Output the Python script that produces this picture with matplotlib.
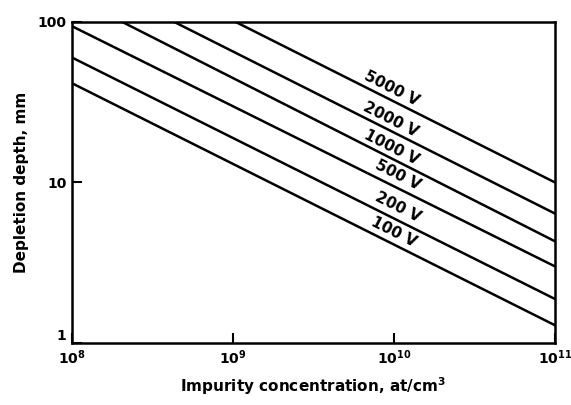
import numpy as np
import matplotlib
matplotlib.use('Agg')
import matplotlib.pyplot as plt

# impurity concentration endpoints (at/cm^3)
conc = [1e8, 1e11]
voltages = ['5000 V', '2000 V', '1000 V', '500 V', '200 V', '100 V']
# depletion depth (mm) at 1e8 and 1e11
depth_start = [325, 209, 144, 94, 60, 41.5]
depth_end = [10.0, 6.4, 4.3, 3.0, 1.88, 1.29]
# label anchor positions (concentration, depth)
label_x = [9.7e9, 9.5e9, 9.7e9, 1.05e10, 1.05e10, 1.0e10]
label_y = [38.3, 24.5, 16.6, 11.1, 7.0, 4.9]

plt.rcParams['font.family'] = 'DejaVu Sans'
plt.rcParams['font.weight'] = 'bold'

fig = plt.figure(figsize=(5.71, 4.05), dpi=100)
ax = fig.add_axes([0.126, 0.153, 0.846, 0.793])

for v, d0, d1, lx, ly in zip(voltages, depth_start, depth_end, label_x, label_y):
    ax.plot(conc, [d0, d1], color='black', linewidth=1.8)
    ax.text(lx, ly, v, rotation=-27, ha='center', va='center',
            fontsize=11, fontweight='bold')

ax.set_xscale('log')
ax.set_yscale('log')
ax.set_xlim(1e8, 1e11)
ax.set_ylim(1, 100)

ax.set_xticks([1e8, 1e9, 1e10, 1e11])
ax.set_xticklabels(['10$^{\\mathbf{8}}$', '10$^{\\mathbf{9}}$', '10$^{\\mathbf{10}}$', '10$^{\\mathbf{11}}$'],
                   fontsize=10, fontweight='bold')
ax.set_yticks([1, 10, 100])
ax.set_yticklabels(['1', '10', '100'], fontsize=10, fontweight='bold')
ax.get_yticklabels()[0].set_verticalalignment('bottom')
ax.minorticks_off()
ax.tick_params(direction='in', length=7, width=1.5, pad=4)

for s in ax.spines.values():
    s.set_linewidth(1.8)

ax.set_xlabel('Impurity concentration, at/cm$^{\\mathbf{3}}$', fontsize=11,
              fontweight='bold', labelpad=6)
ax.set_ylabel('Depletion depth, mm', fontsize=11, fontweight='bold', labelpad=6)

fig.savefig('out.png', dpi=100)
